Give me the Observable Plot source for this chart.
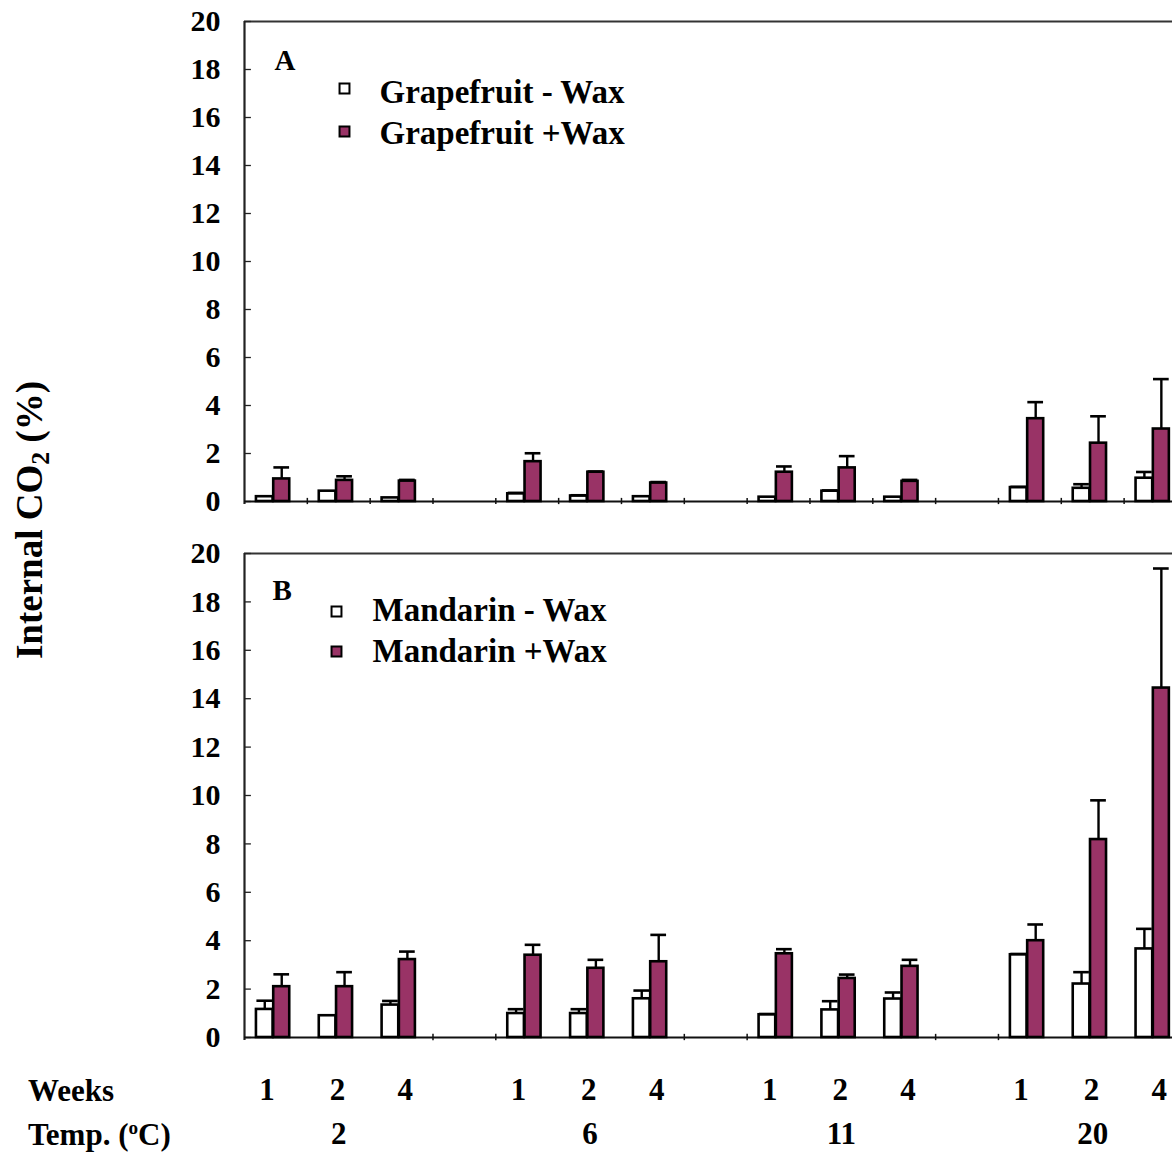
<!DOCTYPE html>
<html>
<head>
<meta charset="utf-8">
<script src="https://cdn.jsdelivr.net/npm/d3@7"></script>
<script src="https://cdn.jsdelivr.net/npm/@observablehq/plot@0.6"></script>
<style>
  html, body { margin: 0; padding: 0; background: white; overflow: hidden; }
  #wrap { position: relative; width: 1172px; height: 1152px; overflow: hidden;
          font-family: "Liberation Serif", "Times New Roman", serif; font-weight: bold; }
  #wrap svg { display: block; }
  .ytitle { position: absolute; left: 32px; top: 520px; transform: translate(-50%, -50%) rotate(-90deg);
            font-size: 37px; white-space: nowrap; }
  .ytitle sub { font-size: 0.7em; vertical-align: -0.25em; }
  .rowhead { position: absolute; left: 28px; font-size: 31px; white-space: nowrap; transform: translateY(-50%); }
  .rowhead sup { font-size: 0.62em; vertical-align: 0.55em; line-height: 0; }
</style>
</head>
<body>
<div id="wrap"></div>
<script>
// ---- data ----
const temps = ["2", "6", "11", "20"];          // Temp. (oC)
const weeks = ["1", "2", "4"];                 // Weeks
const yTicks = [0, 2, 4, 6, 8, 10, 12, 14, 16, 18, 20];

const legendA = ["Grapefruit - Wax", "Grapefruit +Wax"];
const legendB = ["Mandarin - Wax", "Mandarin +Wax"];

// Panel A: grapefruit (order: 2C w1,w2,w4, 6C ..., 11C ..., 20C ...)
const grapefruitNoWax    = [0.20, 0.43, 0.15, 0.32, 0.23, 0.20, 0.18, 0.43, 0.18, 0.58, 0.55, 0.97];
const grapefruitNoWaxErr = [0.00, 0.00, 0.00, 0.04, 0.03, 0.00, 0.00, 0.03, 0.00, 0.03, 0.17, 0.26];
const grapefruitWax      = [0.94, 0.88, 0.85, 1.66, 1.22, 0.77, 1.22, 1.40, 0.84, 3.45, 2.43, 3.02];
const grapefruitWaxErr   = [0.48, 0.17, 0.05, 0.35, 0.03, 0.04, 0.24, 0.49, 0.06, 0.69, 1.12, 2.08];

// Panel B: mandarin
const mandarinNoWax    = [1.16, 0.90, 1.34, 0.99, 0.99, 1.60, 0.94, 1.14, 1.59, 3.42, 2.21, 3.66];
const mandarinNoWaxErr = [0.36, 0.00, 0.17, 0.18, 0.18, 0.34, 0.03, 0.36, 0.27, 0.03, 0.49, 0.83];
const mandarinWax      = [2.10, 2.10, 3.22, 3.40, 2.86, 3.13, 3.46, 2.44, 2.94, 4.00, 8.18, 14.44];
const mandarinWaxErr   = [0.51, 0.60, 0.33, 0.43, 0.35, 1.11, 0.19, 0.16, 0.27, 0.67, 1.62, 4.94];

const purple = "#993366";

// slot layout: each temperature group holds 3 week slots + 1 empty slot
function buildRows(noWax, noWaxErr, wax, waxErr) {
  const rows = [];
  temps.forEach((t, g) => weeks.forEach((w, k) => {
    const i = g * 3 + k, slot = g * 4 + k;
    rows.push({temp: t, week: w, slot, series: "-", value: noWax[i], err: noWaxErr[i]});
    rows.push({temp: t, week: w, slot, series: "+", value: wax[i], err: waxErr[i]});
  }));
  return rows;
}

const barPos = {"-": [0.19, 0.455], "+": [0.465, 0.72]};
const barCenter = s => (barPos[s][0] + barPos[s][1]) / 2;
const weekLabelShift = {"1": 0.36, "2": 0.48, "4": 0.56};

function panel({rows, legend, letter, height, marginTop, marginBottom, xTicks, bottom}) {
  const marks = [
    // frame: top line, left axis line, baseline
    Plot.ruleY([20], {stroke: "#333", strokeWidth: 2}),
    Plot.ruleX([0], {y1: -0.12, y2: 20, stroke: "#222", strokeWidth: 2.2}),
    Plot.ruleY(yTicks, {x1: 0, x2: 0.11, stroke: "#222", strokeWidth: 1.3}),
    Plot.ruleY([0], {stroke: "#111", strokeWidth: 2}),
    Plot.ruleX(xTicks, {y1: -0.13, y2: 0.13, stroke: "#111", strokeWidth: 1.5}),
    Plot.axisY(yTicks, {tickSize: 0, tickPadding: 24, fontSize: 30, fontWeight: "bold", label: null, tickFormat: d => String(d)}),
    // bars
    Plot.rectY(rows, {
      x1: d => d.slot + barPos[d.series][0],
      x2: d => d.slot + barPos[d.series][1],
      y: "value",
      fill: d => d.series === "-" ? "white" : purple,
      stroke: "black", strokeWidth: 2.6
    }),
    // error bars (upper only)
    Plot.ruleX(rows.filter(d => d.err > 0), {
      x: d => d.slot + barCenter(d.series), y1: "value", y2: d => d.value + d.err,
      stroke: "black", strokeWidth: 2.4
    }),
    Plot.ruleY(rows.filter(d => d.err > 0), {
      y: d => d.value + d.err,
      x1: d => d.slot + barCenter(d.series) - 0.125,
      x2: d => d.slot + barCenter(d.series) + 0.125,
      stroke: "black", strokeWidth: 2.6
    }),
    // panel letter + legend
    Plot.text([letter.text], {frameAnchor: "top-left", textAnchor: "start", dx: letter.dx, dy: letter.dy, fontSize: 29, fontWeight: "bold"}),
    Plot.dot([legend[0]], {frameAnchor: "top-left", dx: legend.sq[0], dy: legend.sq[1], symbol: "square", r: 5.6, fill: "white", stroke: "black", strokeWidth: 2}),
    Plot.dot([legend[1]], {frameAnchor: "top-left", dx: legend.sq[0], dy: legend.sq[2], symbol: "square", r: 5.6, fill: purple, stroke: "black", strokeWidth: 2}),
    Plot.text([legend[0]], {frameAnchor: "top-left", textAnchor: "start", dx: legend.tx[0], dy: legend.tx[1], fontSize: 33, fontWeight: "bold"}),
    Plot.text([legend[1]], {frameAnchor: "top-left", textAnchor: "start", dx: legend.tx[0], dy: legend.tx[2], fontSize: 33, fontWeight: "bold"})
  ];
  if (bottom) {
    const weekRows = rows.filter(d => d.series === "-");
    marks.push(Plot.text(weekRows, {x: d => d.slot + weekLabelShift[d.week], text: "week", frameAnchor: "bottom", dy: 62, fontSize: 31, fontWeight: "bold"}));
    marks.push(Plot.text(temps, {x: (d, i) => i * 4 + 1.5, text: d => d, frameAnchor: "bottom", dy: 106, fontSize: 31, fontWeight: "bold"}));
  }
  return Plot.plot({
    width: 1172, height, marginLeft: 244, marginRight: 0, marginTop, marginBottom,
    x: {domain: [0, 14.77], axis: null},
    y: {domain: [0, 20], axis: null},
    style: {fontFamily: "'Liberation Serif', 'Times New Roman', serif", fontWeight: "bold", color: "black", background: "white", maxWidth: "none", overflow: "visible"},
    marks
  });
}

const wrap = document.getElementById("wrap");

const legA = legendA.slice(); legA.sq = [100, 67, 110]; legA.tx = [135, 58, 99];
const legB = legendB.slice(); legB.sq = [92, 58, 98]; legB.tx = [128, 44, 85];

wrap.appendChild(panel({
  rows: buildRows(grapefruitNoWax, grapefruitNoWaxErr, grapefruitWax, grapefruitWaxErr),
  legend: legA, letter: {text: "A", dx: 30, dy: 28},
  height: 530, marginTop: 21, marginBottom: 29,
  xTicks: [1, 2, 3, 4, 5, 6, 7, 8, 9, 10, 11, 12, 13, 14], bottom: false
}));
wrap.appendChild(panel({
  rows: buildRows(mandarinNoWax, mandarinNoWaxErr, mandarinWax, mandarinWaxErr),
  legend: legB, letter: {text: "B", dx: 28, dy: 26},
  height: 622, marginTop: 23, marginBottom: 115,
  xTicks: [3, 4, 7, 8, 11, 12], bottom: true
}));

const yt = document.createElement("div");
yt.className = "ytitle";
yt.innerHTML = "Internal CO<sub>2</sub> (%)";
wrap.appendChild(yt);

const w = document.createElement("div");
w.className = "rowhead"; w.style.top = "1091px"; w.textContent = "Weeks";
wrap.appendChild(w);
const t = document.createElement("div");
t.className = "rowhead"; t.style.top = "1135px"; t.innerHTML = "Temp. (<sup>o</sup>C)";
wrap.appendChild(t);
</script>
</body>
</html>
